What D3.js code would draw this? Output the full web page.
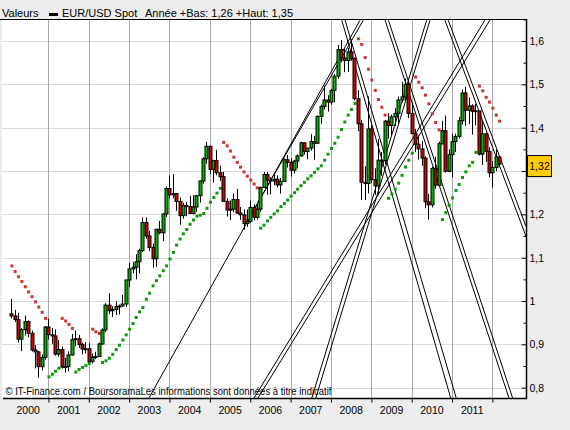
<!DOCTYPE html>
<html lang="fr">
<head>
<meta charset="UTF-8">
<title>EUR/USD Spot</title>
<script src="https://d3js.org/d3.v7.min.js"></script>
<style>
  body { margin: 0; background: #ececec; }
  svg { display: block; }
  text { font-family: "Liberation Sans", Arial, sans-serif; fill: #000; }
</style>
</head>
<body>
<div class="canvas"></div>
<script>
// monthly candles, Feb 2000 -> Mar 2012
const opens = [
  .9705,.9655,.9570,.9120,.9340,.9525,.9255,.8870,.8825,.8485,.8700,
  .9400,.9225,.9195,.8775,.8880,.8475,.8490,.8755,.9110,.9130,.9000,.8895,
  .8900,.8605,.8700,.8720,.9010,.9330,.9905,.9775,.9805,.9870,.9885,.9930,
  1.0485,1.0740,1.0780,1.0905,1.1165,1.1810,1.1500,1.1235,1.0975,1.1655,1.1575,1.2010,
  1.2595,1.2450,1.2480,1.2300,1.1970,1.2200,1.2180,1.2020,1.2170,1.2430,1.2770,1.3280,
  1.3570,1.3040,1.3240,1.2960,1.2870,1.2300,1.2100,1.2120,1.2340,1.2030,1.1990,1.1790,
  1.1840,1.2160,1.1930,1.2120,1.2620,1.2920,1.2790,1.2770,1.2810,1.2680,1.2760,1.3260,
  1.3200,1.3020,1.3230,1.3350,1.3650,1.3450,1.3530,1.3680,1.3640,1.4260,1.4490,1.4640,
  1.4590,1.4860,1.5190,1.5800,1.5610,1.5550,1.5750,1.5600,1.4670,1.4090,1.2740,1.2710,
  1.3970,1.2800,1.2660,1.3250,1.3240,1.4150,1.4050,1.4250,1.4330,1.4640,1.4710,1.5000,
  1.4330,1.3860,1.3620,1.3510,1.3300,1.2290,1.2220,1.3060,1.2670,1.3630,1.3930,1.2990,
  1.3380,1.3680,1.3800,1.4160,1.4800,1.4400,1.4500,1.4380,1.4390,1.3390,1.3860,1.3450,
  1.2960,1.3080,1.3325
];
const highs = [
  1.0050,.9797,.9727,.9373,.9665,.9555,.9318,.8982,.8850,.8770,.9424,
  .9592,.9383,.9345,.9100,.8950,.8690,.8840,.9240,.9320,.9220,.9040,.9050,
  .9030,.8790,.8830,.9040,.9370,.9950,1.0180,.9880,.9990,.9920,1.0140,1.0490,
  1.0880,1.0900,1.1080,1.1210,1.1930,1.1930,1.1620,1.1330,1.1670,1.1850,1.2020,1.2640,
  1.2900,1.2930,1.2480,1.2390,1.2270,1.2290,1.2430,1.2440,1.2450,1.2780,1.3320,1.3670,
  1.3590,1.3260,1.3490,1.3120,1.2980,1.2370,1.2320,1.2480,1.2590,1.2170,1.2110,1.2110,
  1.2320,1.2230,1.2260,1.2640,1.2980,1.2980,1.2860,1.2920,1.2900,1.2840,1.3290,1.3370,
  1.3290,1.3260,1.3380,1.3680,1.3650,1.3530,1.3850,1.3810,1.4280,1.4530,1.4970,1.4750,
  1.4900,1.5240,1.5910,1.6020,1.5830,1.5840,1.6040,1.5620,1.4870,1.4180,1.3110,1.4720,
  1.4060,1.3060,1.3740,1.3440,1.4180,1.4340,1.4300,1.4450,1.4720,1.5060,1.5140,1.5140,
  1.4580,1.3970,1.3820,1.3690,1.3340,1.2470,1.3100,1.3330,1.3680,1.4160,1.4280,1.3500,
  1.3860,1.3860,1.4250,1.4880,1.4940,1.4700,1.4540,1.4550,1.4400,1.4150,1.3880,1.3550,
  1.3230,1.3490,1.3340
];
const lows = [
  .9595,.9515,.9044,.8845,.9204,.9162,.8834,.8444,.8230,.8400,.8651,
  .9111,.9012,.8740,.8720,.8440,.8350,.8380,.8740,.8960,.8920,.8770,.8790,
  .8580,.8560,.8660,.8720,.8990,.9280,.9700,.9630,.9680,.9690,.9870,.9870,
  1.0330,1.0640,1.0500,1.0630,1.1130,1.1440,1.1150,1.0770,1.0790,1.1540,1.1380,1.1940,
  1.2370,1.2370,1.2080,1.1760,1.1900,1.1960,1.2010,1.2000,1.2060,1.2270,1.2710,1.3170,
  1.2930,1.2730,1.2900,1.2770,1.2300,1.1950,1.1870,1.2050,1.2010,1.1870,1.1640,1.1710,
  1.1800,1.1860,1.1880,1.2060,1.2620,1.2460,1.2460,1.2670,1.2620,1.2480,1.2760,1.3080,
  1.2870,1.2940,1.3060,1.3330,1.3380,1.3270,1.3470,1.3260,1.3630,1.4090,1.4420,1.4370,
  1.4530,1.4590,1.5130,1.5510,1.5280,1.5290,1.5550,1.4630,1.3920,1.2330,1.2330,1.2480,
  1.2720,1.2450,1.2450,1.2890,1.3150,1.3750,1.3830,1.4040,1.4090,1.4580,1.4640,1.4220,
  1.3860,1.3440,1.3260,1.3120,1.2140,1.1880,1.2160,1.2590,1.2650,1.3610,1.2960,1.2970,
  1.2860,1.3440,1.3750,1.4070,1.4040,1.4080,1.3840,1.4050,1.3360,1.3140,1.3210,1.2860,
  1.2620,1.3000,1.3100
];
const closes = [
  .9655,.9570,.9120,.9340,.9525,.9255,.8870,.8825,.8485,.8700,.9400,
  .9225,.9195,.8775,.8880,.8475,.8490,.8755,.9110,.9130,.9000,.8895,.8900,
  .8605,.8700,.8720,.9010,.9330,.9905,.9775,.9805,.9870,.9885,.9930,1.0485,
  1.0740,1.0780,1.0905,1.1165,1.1810,1.1500,1.1235,1.0975,1.1655,1.1575,1.2010,1.2595,
  1.2450,1.2480,1.2300,1.1970,1.2200,1.2180,1.2020,1.2170,1.2430,1.2770,1.3280,1.3570,
  1.3040,1.3240,1.2960,1.2870,1.2300,1.2100,1.2120,1.2340,1.2030,1.1990,1.1790,1.1840,
  1.2160,1.1930,1.2120,1.2620,1.2920,1.2790,1.2770,1.2810,1.2680,1.2760,1.3260,1.3200,
  1.3020,1.3230,1.3350,1.3650,1.3450,1.3530,1.3680,1.3640,1.4260,1.4490,1.4640,1.4590,
  1.4860,1.5190,1.5800,1.5610,1.5550,1.5750,1.5600,1.4670,1.4090,1.2740,1.2710,1.3970,
  1.2800,1.2660,1.3250,1.3240,1.4150,1.4050,1.4250,1.4330,1.4640,1.4710,1.5000,1.4330,
  1.3860,1.3620,1.3510,1.3300,1.2290,1.2220,1.3060,1.2670,1.3630,1.3930,1.2990,1.3380,
  1.3680,1.3800,1.4160,1.4800,1.4400,1.4500,1.4380,1.4390,1.3390,1.3860,1.3450,1.2960,
  1.3080,1.3325,1.3160
];
// parabolic SAR dots, one per candle
const sar = [
  1.081,1.068,1.056,1.045,1.033,1.021,1.010,0.998,0.986,0.974,0.960,
  0.825,0.831,0.838,0.845,0.960,0.954,0.946,0.937,0.836,0.842,0.847,0.851,
  0.856,0.935,0.929,0.925,0.858,0.862,0.868,0.877,0.888,0.898,0.910,0.922,
  0.935,0.948,0.962,0.975,0.985,1.004,1.018,1.035,1.047,1.058,1.070,1.081,
  1.097,1.112,1.129,1.143,1.155,1.165,1.177,1.187,1.196,1.198,1.202,1.214,
  1.228,1.239,1.249,1.260,1.366,1.358,1.346,1.332,1.320,1.309,1.298,1.288,
  1.279,1.270,1.261,1.168,1.175,1.185,1.193,1.201,1.208,1.218,1.225,1.233,
  1.242,1.250,1.258,1.266,1.274,1.282,1.289,1.297,1.305,1.312,1.325,1.339,
  1.352,1.364,1.378,1.396,1.413,1.429,1.442,1.456,1.605,1.592,1.562,1.535,
  1.510,1.486,1.465,1.447,1.429,1.237,1.247,1.258,1.272,1.290,1.309,1.325,
  1.341,1.517,1.505,1.492,1.475,1.455,1.432,1.412,1.395,1.188,1.204,1.221,
  1.238,1.255,1.269,1.285,1.298,1.312,1.320,1.343,1.496,1.485,1.470,1.459,
  1.445,1.429,1.415
];
// hand drawn trend lines, [date, value] end points
const trendLines = [
  [['2003-06-29', 0.776], ['2008-09-20', 1.648]],
  [['2006-01-05', 1.198], ['2008-10-20', 1.648]],
  [['2006-02-04', 0.776], ['2011-10-25', 1.648]],
  [['2006-03-12', 0.776], ['2011-12-09', 1.648]],
  [['2007-07-12', 0.776], ['2010-05-16', 1.648]],
  [['2007-08-17', 0.776], ['2010-06-15', 1.648]],
  [['2008-04-08', 1.648], ['2010-12-20', 0.776]],
  [['2008-05-08', 1.648], ['2011-02-08', 0.776]],
  [['2009-05-05', 1.648], ['2012-05-30', 0.776]],
  [['2009-06-04', 1.648], ['2012-07-02', 0.776]],
  [['2010-10-28', 1.648], ['2012-10-30', 1.150]],
  [['2010-11-27', 1.648], ['2012-10-30', 1.173]]
];
const yTicks = [0.8, 0.9, 1, 1.1, 1.2, 1.3, 1.4, 1.5, 1.6];
const yMinorTicks = [0.85, 0.95, 1.05, 1.15, 1.25, 1.35, 1.45, 1.55, 1.65];
const years = [2000, 2001, 2002, 2003, 2004, 2005, 2006, 2007, 2008, 2009, 2010, 2011];
const lastLabel = '1,32';

const width = 570;
const height = 430;
const [pl, pr, pt, pb] = [2, 526, 19, 398];

const svg = d3.select('.canvas')
  .append('svg')
  .attr('width', width)
  .attr('height', height);

const parse = d3.timeParse('%Y-%m-%d');
const months = d3.timeMonth.range(new Date(2000, 1, 1), new Date(2012, 3, 1));
const data = months.map((m, i) => ({
  date: m, open: opens[i], high: highs[i], low: lows[i], close: closes[i], sar: sar[i]
}));

const x = d3.scaleTime()
  .domain([new Date(2000, 0, 1), new Date(2012, 0, 1)])
  .range([8, 492.4]);
const y = d3.scaleLinear()
  .domain([0.8, 1.6])
  .range([387.7, 41]);

// plot background
svg.append('rect')
  .attr('x', pl).attr('y', pt)
  .attr('width', pr - pl).attr('height', pb - pt)
  .attr('fill', '#fff');

svg.append('clipPath').attr('id', 'clip')
  .append('rect')
  .attr('x', pl).attr('y', pt)
  .attr('width', pr - pl).attr('height', pb - pt);

// grid
const grid = svg.append('g');
grid.selectAll('.hg').data(yTicks).enter().append('line')
  .attr('x1', pl).attr('x2', pr)
  .attr('y1', d => Math.round(y(d)) + 0.5).attr('y2', d => Math.round(y(d)) + 0.5)
  .attr('stroke', '#dcdcdc');
const yearStarts = years.map(yr => new Date(yr + 1, 0, 1));
grid.selectAll('.vg').data(yearStarts).enter().append('line')
  .attr('x1', d => Math.round(x(d)) + 0.5).attr('x2', d => Math.round(x(d)) + 0.5)
  .attr('y1', pt).attr('y2', pb)
  .attr('stroke', '#a8a8a8');

const plot = svg.append('g').attr('clip-path', 'url(#clip)');

// trend lines
const line = d3.line()
  .x(d => x(parse(d[0])))
  .y(d => y(d[1]));
plot.selectAll('.trend').data(trendLines).enter().append('path')
  .attr('d', line)
  .attr('fill', 'none')
  .attr('stroke', '#000')
  .attr('stroke-width', 1);

// SAR dots
plot.selectAll('.sar').data(data).enter().append('rect')
  .attr('x', d => x(d.date) - 1)
  .attr('y', d => y(d.sar) - 1.5)
  .attr('width', 3).attr('height', 3)
  .attr('fill', d => d.sar < d.close ? '#0c9a0c' : '#cc3333');

// wicks
plot.selectAll('.wick').data(data).enter().append('line')
  .attr('x1', d => Math.round(x(d.date)) + 0.5)
  .attr('x2', d => Math.round(x(d.date)) + 0.5)
  .attr('y1', d => y(d.high)).attr('y2', d => y(d.low))
  .attr('stroke', '#000');

// bodies
plot.selectAll('.body').data(data).enter().append('rect')
  .attr('x', d => Math.round(x(d.date)) - 1)
  .attr('y', d => y(Math.max(d.open, d.close)))
  .attr('width', 3)
  .attr('height', d => Math.max(1, Math.abs(y(d.open) - y(d.close))))
  .attr('fill', d => d.close >= d.open ? '#00b000' : '#cc0000')
  .attr('stroke', '#000')
  .attr('stroke-width', 1);

// frame
svg.append('line').attr('x1', 0).attr('x2', pr + 1).attr('y1', pt + 0.5).attr('y2', pt + 0.5).attr('stroke', '#000');
svg.append('line').attr('x1', pr + 0.5).attr('x2', pr + 0.5).attr('y1', pt).attr('y2', pb + 1).attr('stroke', '#000').attr('stroke-width', 1.5);
svg.append('line').attr('x1', pl + 1).attr('x2', pr + 1).attr('y1', pb + 0.5).attr('y2', pb + 0.5).attr('stroke', '#000').attr('stroke-width', 1.5);

// right axis
const fmt = d => String(Math.round(d * 10) / 10).replace('.', ',');
const yAxisG = svg.append('g').attr('transform', `translate(${pr + 0.5},0)`);
yAxisG.call(d3.axisRight(y).tickValues(yTicks).tickSize(-5).tickPadding(3).tickFormat(fmt));
const yMinorG = svg.append('g').attr('transform', `translate(${pr + 0.5},0)`);
yMinorG.call(d3.axisRight(y).tickValues(yMinorTicks).tickSize(-3).tickFormat(''));
[yAxisG, yMinorG].forEach(g => {
  g.select('.domain').remove();
  g.selectAll('line').attr('stroke', '#000');
});
yAxisG.selectAll('text')
  .style('font-family', '"Liberation Sans", Arial, sans-serif')
  .style('font-size', '10.5px')
  .attr('fill', '#000');

// bottom axis
const xAxisG = svg.append('g').attr('transform', `translate(0,${pb + 0.5})`);
xAxisG.call(d3.axisBottom(x).tickValues(yearStarts).tickSize(4).tickFormat(''));
xAxisG.select('.domain').remove();
xAxisG.selectAll('line').attr('stroke', '#000');

svg.append('g').selectAll('text').data(years).enter().append('text')
  .attr('x', yr => (Math.max(pl, x(new Date(yr, 0, 1))) + x(new Date(yr + 1, 0, 1))) / 2)
  .attr('y', 413.5)
  .attr('text-anchor', 'middle')
  .style('font-size', '10.5px')
  .text(yr => yr);

// last value marker
const last = data[data.length - 1];
const lastG = svg.append('g').attr('transform', `translate(${pr + 1},${y(last.close) + 2})`);
lastG.append('rect')
  .attr('x', 0.5).attr('y', -10.5)
  .attr('width', 24).attr('height', 21)
  .attr('fill', '#ffcc00')
  .attr('stroke', '#000');
lastG.append('text')
  .attr('x', 12.5).attr('y', 4)
  .attr('text-anchor', 'middle')
  .style('font-size', '10.5px')
  .text(lastLabel);

// header
svg.append('text').attr('x', 2).attr('y', 17).style('font-size', '11px').text('Valeurs');
svg.append('rect').attr('x', 49).attr('y', 13).attr('width', 9).attr('height', 3).attr('fill', '#000');
svg.append('text').attr('x', 62).attr('y', 17).style('font-size', '11px').text('EUR/USD Spot');
svg.append('text').attr('x', 145).attr('y', 17).style('font-size', '11px').text('Année +Bas: 1,26 +Haut: 1,35');

// source note
svg.append('text')
  .attr('x', 5.5).attr('y', 395)
  .attr('textLength', 326)
  .attr('lengthAdjust', 'spacingAndGlyphs')
  .style('font-size', '10.5px')
  .text('\u00a9 IT-Finance.com / BoursoramaLes informations sont données à titre indicatif');
</script>
</body>
</html>
